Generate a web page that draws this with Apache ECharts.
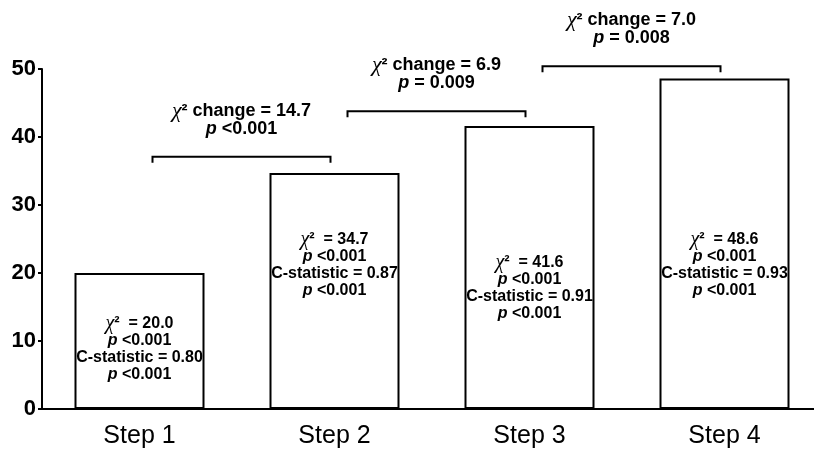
<!DOCTYPE html>
<html><head><meta charset="utf-8">
<script src="https://cdn.jsdelivr.net/npm/echarts@6/dist/echarts.min.js"></script>
<style>html,body{margin:0;padding:0;background:#fff}#c{width:814px;height:453px}</style>
</head><body><div id="c"></div>
<script>
// ---- data ----
const categories = ['Step 1', 'Step 2', 'Step 3', 'Step 4'];
const chiSquare = [20.0, 34.7, 41.6, 48.6];
const modelP = ['<0.001', '<0.001', '<0.001', '<0.001'];
const cStatistic = ['0.80', '0.87', '0.91', '0.93'];
const cStatP = ['<0.001', '<0.001', '<0.001', '<0.001'];
const barLabelY = [8.8, 21.2, 17.8, 21.2];
const chiChange = ['14.7', '6.9', '7.0'];
const changeP = ['<0.001', '= 0.009', '= 0.008'];
const bracketY = [37.1, 43.8, 50.4];
const yMin = 0, yMax = 50, yStep = 10;

const FONT = 'Arial, "Liberation Sans", Helvetica, sans-serif';
const SERIF = '"Liberation Serif", "Times New Roman", serif';

const richBase = (size) => ({
  b: { fontFamily: FONT, fontWeight: 'bold', fontSize: size, fill: '#000', color: '#000' },
  pi: { fontFamily: FONT, fontWeight: 'bold', fontStyle: 'italic', fontSize: size, fill: '#000', color: '#000' },
  chi: { fontFamily: SERIF, fontStyle: 'italic', fontSize: size + 4, fill: '#000', color: '#000' }
});

const chart = echarts.init(document.getElementById('c'), null, { renderer: 'canvas' });
chart.setOption({
  animation: false,
  backgroundColor: '#fff',
  grid: { left: 42, width: 780, top: 69, bottom: 44, containLabel: false, outerBoundsMode: 'none' },
  xAxis: {
    type: 'category',
    data: categories,
    axisLine: { lineStyle: { color: '#000', width: 2 } },
    axisTick: { alignWithLabel: true, length: 5, lineStyle: { color: '#000', width: 2 } },
    axisLabel: { color: '#000', fontFamily: FONT, fontSize: 25, margin: 15 }
  },
  yAxis: {
    type: 'value', min: yMin, max: yMax, interval: yStep,
    splitLine: { show: false },
    axisLine: { show: true, lineStyle: { color: '#000', width: 2 } },
    axisTick: { show: true, length: 4, lineStyle: { color: '#000', width: 2 } },
    axisLabel: { color: '#000', fontFamily: FONT, fontWeight: 'bold', fontSize: 22, margin: 6 }
  },
  series: [
    {
      type: 'bar',
      data: chiSquare,
      barWidth: 130,
      itemStyle: { color: '#fff', borderColor: '#000', borderWidth: 2 },
      z: 2
    },
    {
      type: 'custom',
      clip: false,
      z: 5,
      data: categories.map((c, i) => [i, barLabelY[i]]),
      renderItem: (params, api) => {
        const i = params.dataIndex;
        const p = api.coord([i, barLabelY[i]]);
        const txt = '{chi|χ}{b|²  = ' + chiSquare[i].toFixed(1) + '}\n' +
          '{pi|p}{b| ' + modelP[i] + '}\n' +
          '{b|C-statistic = ' + cStatistic[i] + '}\n' +
          '{pi|p}{b| ' + cStatP[i] + '}';
        return {
          type: 'text', x: p[0], y: p[1],
          style: {
            text: txt, rich: richBase(16), lineHeight: 17,
            align: 'center', verticalAlign: 'middle', fill: '#000',
            font: 'bold 16px ' + FONT
          }
        };
      }
    },
    {
      type: 'custom',
      clip: false,
      z: 5,
      data: chiChange.map((c, i) => [i, bracketY[i]]),
      renderItem: (params, api) => {
        const i = params.dataIndex;
        const a = api.coord([i, bracketY[i]]);
        const b = api.coord([i + 1, bracketY[i]]);
        const x1 = a[0] + 13, x2 = b[0] - 4, y = a[1];
        const txt = '{chi|χ}{b|² change = ' + chiChange[i] + '}\n{pi|p}{b| ' + changeP[i] + '}';
        return {
          type: 'group',
          children: [
            {
              type: 'polyline',
              shape: { points: [[x1, y + 6], [x1, y], [x2, y], [x2, y + 6]] },
              style: { stroke: '#000', lineWidth: 2, fill: null }
            },
            {
              type: 'text', x: (x1 + x2) / 2, y: y - 19,
              style: {
                text: txt, rich: richBase(18), lineHeight: 18,
                align: 'center', verticalAlign: 'bottom', fill: '#000',
                font: 'bold 18px ' + FONT
              }
            }
          ]
        };
      }
    }
  ]
});
</script>
</body></html>
